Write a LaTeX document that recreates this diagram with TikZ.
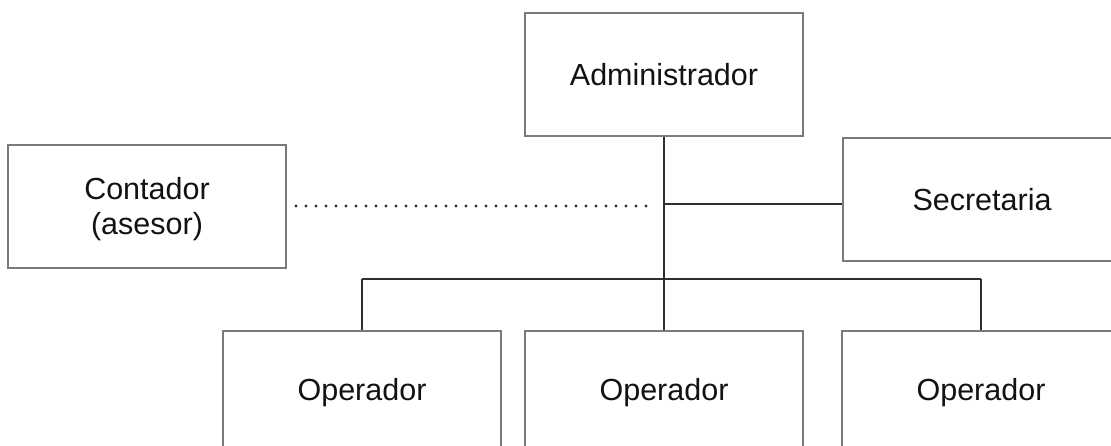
\documentclass[tikz,border=0pt]{standalone}
\usepackage{fontspec}
\setmainfont{Liberation Sans}
\definecolor{boxline}{HTML}{7A7A7A}
\definecolor{linkline}{HTML}{2E2E2E}
\definecolor{ink}{HTML}{121212}
\begin{document}
\begin{tikzpicture}[x=1pt,y=1pt,
  unittext/.style={inner sep=0pt, text=ink, align=center, font=\fontsize{30.5}{35}\selectfont},
  unit/.style={unittext, draw=boxline, line width=1.3pt, minimum width=278pt, minimum height=123pt},
  link/.style={draw=linkline, line width=1.8pt},
  dotlink/.style={draw=linkline, line width=3.1pt, line cap=round, dash pattern=on 0pt off 10pt}]
\useasboundingbox (0,0) rectangle (1111,446);
\clip (0,0) rectangle (1111,446);
% units
\node[unit] (adm) at (664,371.5) {Administrador};
\node[unit] (con) at (147,239.5) {};
\node[unittext] (contxt) at ([yshift=-3pt]con.center) {Contador\\(asesor)};
\node[unit] (sec) at (982,246.5) {Secretaria};
\node[unit] (op1) at (362,53.5) {Operador};
\node[unit] (op2) at (664,53.5) {Operador};
\node[unit] (op3) at (981,53.5) {Operador};
% junctions on the main trunk
\coordinate (jsec) at (664,242);
\coordinate (jbus) at (664,167);
\coordinate (dstart) at (296,240);
\coordinate (dend) at (654,240);
% trunk and branches
\draw[link] (adm.south) -- (jbus);
\draw[link] (jsec) -- (sec.west |- jsec);
\draw[link] (op1.north |- jbus) -- (op3.north |- jbus);
\draw[link] (op1.north |- jbus) -- (op1.north);
\draw[link] (jbus) -- (op2.north);
\draw[link] (op3.north |- jbus) -- (op3.north);
% advisory relation
\draw[dotlink] (dstart) -- (dend);
\end{tikzpicture}
\end{document}
